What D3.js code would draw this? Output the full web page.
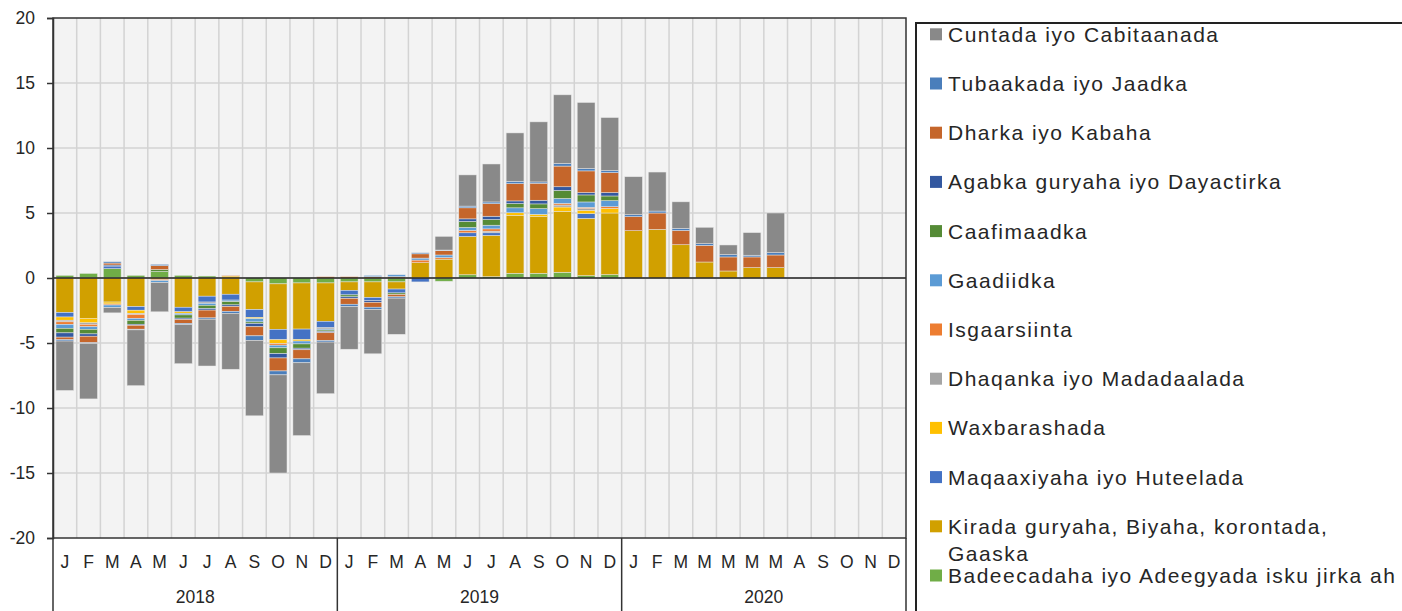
<!DOCTYPE html>
<html>
<head>
<meta charset="utf-8">
<script src="https://cdn.jsdelivr.net/npm/d3@7"></script>
<style>
    body { margin: 0; background: #fff; }
    text { font-family: "Liberation Sans", Arial, sans-serif; fill: #262626; }
</style>
</head>
<body>
<svg id="chart" width="1402" height="611"></svg>
<script>
// month labels as printed under the bars (Jan 2018 .. Dec 2020)
const months = ["J","F","M","A","M","J","J","A","S","O","N","D",
                "J","F","M","A","M","J","J","A","S","O","N","D",
                "J","F","M","M","M","M","M","A","S","O","N","D"];
const years = ["2018", "2019", "2020"];
const yTicks = [-20, -15, -10, -5, 0, 5, 10, 15, 20];

// contributions, one value per month from Jan 2018 (31 months of data)
const badeecadaha = [0.2, 0.35, 0.72, 0.2, 0.5, 0.2, 0.15, 0, -0.3, -0.45, -0.38, -0.38,
                     -0.3, -0.3, -0.3, 0, -0.25, 0.25, 0.1, 0.36, 0.36, 0.44, 0.18, 0.26,
                     0, 0, 0, 0, 0, 0, 0];
const kirada = [-2.65, -3.1, -1.85, -2.2, 0, -2.25, -1.4, -1.25, -2.13, -3.5, -3.55, -2.95,
                -0.65, -1.2, -0.55, 1.18, 1.45, 2.95, 3.18, 4.46, 4.36, 4.69, 4.41, 4.74,
                3.64, 3.74, 2.56, 1.23, 0.54, 0.8, 0.8];
const maqaaxiyaha = [-0.35, 0, 0.2, -0.28, 0, -0.35, -0.45, -0.45, -0.6, -0.8, -0.8, -0.5,
                     -0.35, -0.25, -0.3, -0.3, 0, 0.28, 0.2, 0, 0, 0, 0.36, 0,
                     0, 0, 0, 0, 0, 0, 0];
const waxbarashada = [-0.25, -0.35, -0.15, -0.25, -0.1, -0.12, 0, 0.15, -0.1, -0.3, -0.12, 0,
                      0, 0, 0, 0, 0, 0, 0, 0.2, 0.18, 0.33, 0.26, 0.36,
                      0, 0, 0, 0, 0, 0, 0];
const dhaqanka = [-0.12, -0.12, 0, -0.08, 0, 0, -0.1, 0, 0, 0, 0, -0.1,
                  0, 0, 0, 0, 0, 0, 0.12, 0, 0, 0.15, 0.13, 0,
                  0, 0, 0, 0, 0, 0, 0];
const isgaarsiinta = [-0.2, -0.18, -0.08, -0.3, -0.1, 0, 0, 0.05, 0, -0.12, 0, 0.1,
                      0.1, 0.1, 0.1, 0.2, 0.12, 0.18, 0.18, 0, 0, 0.13, 0.1, 0.13,
                      0, 0, 0, 0, 0, 0, 0];
const gaadiidka = [-0.3, -0.2, -0.2, -0.15, -0.15, -0.12, -0.15, -0.12, -0.25, -0.2, -0.22, -0.08,
                   0, 0.1, 0.15, 0.15, 0.2, 0.23, 0.28, 0.38, 0.44, 0.38, 0.41, 0.46,
                   0, 0, 0, 0, 0, 0, 0];
const caafimaadka = [-0.35, -0.35, 0, -0.3, 0.15, -0.25, -0.25, -0.25, -0.12, -0.45, -0.33, -0.1,
                     -0.15, 0, -0.12, 0, 0, 0.46, 0.44, 0.33, 0.36, 0.62, 0.54, 0.36,
                     0, 0, 0, 0, 0, 0, 0];
const agabka = [-0.33, -0.18, 0.08, -0.08, 0, -0.1, -0.12, -0.12, -0.25, -0.33, -0.12, -0.1,
                -0.12, -0.12, 0, 0, 0, 0.2, 0.25, 0.2, 0.28, 0.28, 0.18, 0.26,
                0, 0, 0, 0, 0, 0, 0];
const dharka = [-0.2, -0.5, 0.15, -0.3, 0.3, -0.3, -0.6, -0.38, -0.7, -1.0, -0.7, -0.6,
                -0.45, -0.38, -0.18, 0.33, 0.33, 0.85, 0.97, 1.33, 1.31, 1.59, 1.67, 1.54,
                1.08, 1.26, 1.1, 1.28, 1.08, 0.82, 0.97];
const tubaakada = [-0.1, -0.05, 0.1, -0.05, 0.1, -0.1, -0.1, -0.15, -0.35, -0.3, -0.3, -0.12,
                   -0.18, -0.18, -0.1, 0.08, 0.05, 0.13, 0.13, 0.18, 0.1, 0.2, 0.18, 0.15,
                   0.15, 0.15, 0.15, 0.13, 0.18, 0.13, 0.18];
const cuntada = [-3.8, -4.27, -0.4, -4.29, -2.25, -3.0, -3.6, -4.3, -5.8, -7.55, -5.6, -3.97,
                 -3.28, -3.4, -2.78, 0, 1.05, 2.4, 2.92, 3.72, 4.62, 5.28, 5.08, 4.08,
                 2.92, 3.0, 2.05, 1.26, 0.74, 1.74, 3.05];

// stacking order (bottom first); legend shows them reversed
const seriesNames = [
    "Badeecadaha iyo Adeegyada isku jirka ah",
    "Kirada guryaha, Biyaha, korontada,\nGaaska",
    "Maqaaxiyaha iyo Huteelada",
    "Waxbarashada",
    "Dhaqanka iyo Madadaalada",
    "Isgaarsiinta",
    "Gaadiidka",
    "Caafimaadka",
    "Agabka guryaha iyo Dayactirka",
    "Dharka iyo Kabaha",
    "Tubaakada iyo Jaadka",
    "Cuntada iyo Cabitaanada"
];
const seriesValues = [badeecadaha, kirada, maqaaxiyaha, waxbarashada, dhaqanka, isgaarsiinta,
                      gaadiidka, caafimaadka, agabka, dharka, tubaakada, cuntada];
const colors = ["#70ad47", "#d1a000", "#4472c4", "#ffc000", "#a5a5a5", "#ed7d31",
                "#5b9bd5", "#558b36", "#3358a0", "#c5662b", "#4a7ebb", "#898989"];

const margin = { left: 53, right: 906, top: 18, bottom: 538 };

const svg = d3.select("#chart");

const rows = seriesValues[0].map((_, i) => {
    const row = { i: i };
    seriesNames.forEach((n, k) => { row[n] = seriesValues[k][i]; });
    return row;
});

const x = d3.scaleBand()
    .domain(d3.range(months.length))
    .range([margin.left, margin.right])
    .paddingInner(0.25)
    .paddingOuter(0.125);
const step = x.step();

const y = d3.scaleLinear()
    .domain([-20, 20])
    .range([margin.bottom, margin.top]);

// plot background
svg.append("rect")
    .attr("x", margin.left).attr("y", margin.top)
    .attr("width", margin.right - margin.left)
    .attr("height", margin.bottom - margin.top)
    .attr("fill", "#f3f3f3");

const grid = svg.append("g").attr("stroke", "#d3d3d3").attr("stroke-width", 1.5);
grid.selectAll("line.h")
    .data(yTicks.slice(1, -1))
    .join("line")
    .attr("x1", margin.left).attr("x2", margin.right)
    .attr("y1", (d) => y(d)).attr("y2", (d) => y(d));
grid.selectAll("line.v")
    .data(d3.range(1, months.length))
    .join("line")
    .attr("x1", (d) => margin.left + d * step).attr("x2", (d) => margin.left + d * step)
    .attr("y1", margin.top).attr("y2", margin.bottom);

// stacked bars
const stack = d3.stack()
    .keys(seriesNames)
    .offset(d3.stackOffsetDiverging);
const stacked = stack(rows);

svg.append("g")
    .selectAll("g")
    .data(stacked)
    .join("g")
    .attr("fill", (d, k) => colors[k])
    .selectAll("rect")
    .data((d) => d.filter((p) => p[1] !== p[0]))
    .join("rect")
    .attr("x", (p) => x(p.data.i))
    .attr("width", x.bandwidth())
    .attr("y", (p) => y(Math.max(p[0], p[1])))
    .attr("height", (p) => Math.abs(y(p[0]) - y(p[1])))
    .attr("stroke", "#e8e8e8")
    .attr("stroke-opacity", 0.8)
    .attr("stroke-width", 0.6);

// zero line and frame
svg.append("line")
    .attr("x1", margin.left).attr("x2", margin.right)
    .attr("y1", y(0)).attr("y2", y(0))
    .attr("stroke", "#222").attr("stroke-width", 1.5);

svg.append("rect")
    .attr("x", margin.left).attr("y", margin.top)
    .attr("width", margin.right - margin.left)
    .attr("height", margin.bottom - margin.top)
    .attr("fill", "none")
    .attr("stroke", "#333").attr("stroke-width", 1.5);

// y axis
const yAxis = svg.append("g")
    .attr("transform", `translate(${margin.left},0)`)
    .call(d3.axisLeft(y).tickValues(yTicks).tickSize(6).tickPadding(12)
        .tickFormat((d) => String(d)));
yAxis.select(".domain").attr("stroke", "#333").attr("stroke-width", 1.5);
yAxis.selectAll(".tick line").attr("stroke", "#333").attr("stroke-width", 1.5);
yAxis.selectAll(".tick text")
    .attr("font-size", 17.5)
    .attr("font-family", "'Liberation Sans', Arial, sans-serif")
    .attr("fill", "#262626");

// month and year labels
svg.append("g")
    .selectAll("text")
    .data(months)
    .join("text")
    .attr("x", (d, i) => x(i) + x.bandwidth() / 2)
    .attr("y", 568)
    .attr("text-anchor", "middle")
    .attr("font-size", 17.5)
    .text((d) => d);

svg.append("g")
    .selectAll("text")
    .data(years)
    .join("text")
    .attr("x", (d, i) => margin.left + (i * 12 + 6) * step)
    .attr("y", 603)
    .attr("text-anchor", "middle")
    .attr("font-size", 17.5)
    .text((d) => d);

svg.append("g")
    .attr("stroke", "#333").attr("stroke-width", 1.5)
    .selectAll("line")
    .data([0, 12, 24, 36])
    .join("line")
    .attr("x1", (d) => margin.left + d * step).attr("x2", (d) => margin.left + d * step)
    .attr("y1", margin.bottom).attr("y2", 611);

// legend
const legend = svg.append("g");
legend.append("rect")
    .attr("x", 916).attr("y", 23)
    .attr("width", 600).attr("height", 700)
    .attr("fill", "#fff")
    .attr("stroke", "#222").attr("stroke-width", 2);

const legendItems = seriesNames.map((n, k) => ({ name: n, color: colors[k] })).reverse();
const item = legend.selectAll("g.item")
    .data(legendItems)
    .join("g")
    .attr("class", "item")
    .attr("transform", (d, i) => `translate(930,${34.3 + i * 49.2})`);
item.append("rect")
    .attr("x", 0).attr("y", -6)
    .attr("width", 12).attr("height", 12)
    .attr("fill", (d) => d.color);
item.append("text")
    .attr("x", 18)
    .attr("y", 7.5)
    .attr("font-size", 21)
    .attr("letter-spacing", 1.5)
    .selectAll("tspan")
    .data((d) => d.name.split("\n"))
    .join("tspan")
    .attr("x", 18)
    .attr("dy", (d, i) => i === 0 ? 0 : 27)
    .text((d) => d);
</script>
</body>
</html>
